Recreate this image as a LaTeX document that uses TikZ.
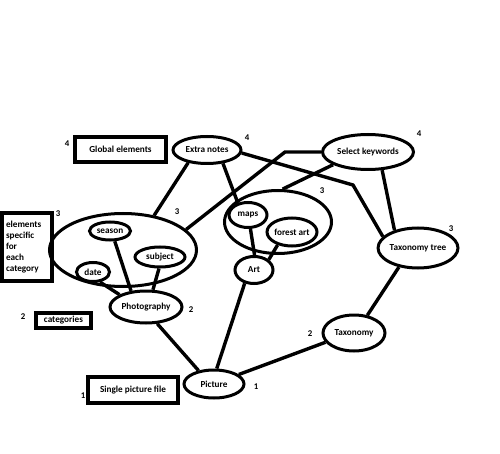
\documentclass[tikz,border=0pt]{standalone}
\usepackage{fontspec}
\setmainfont{Carlito}
\usetikzlibrary{shapes.geometric}

\begin{document}
\begin{tikzpicture}[x=1pt, y=-1pt,
    oval/.style={draw, ellipse, line width=3pt, inner sep=0pt,
                 font=\fontsize{9.2}{11}\selectfont\bfseries},
    box/.style={draw, rectangle, line width=3.2pt, inner sep=0pt,
                font=\fontsize{9.2}{11}\selectfont\bfseries},
    num/.style={inner sep=0pt, font=\fontsize{8.8}{10}\selectfont\bfseries},
    rel/.style={line width=3.4pt}]
  \useasboundingbox (0,0) rectangle (500,454);
  % legend boxes
  \node[box, minimum width=91, minimum height=25] (gel) at (120.5,149.5) {Global elements};
  \node[box, minimum width=50, minimum height=68, align=left, text width=42] (specific) at (27,247)
        {elements\\ specific\\ for\\ each\\ category};
  \node[box, minimum width=55, minimum height=15] (cats) at (63.5,320.5) {categories};
  \node[box, minimum width=90, minimum height=26] (single) at (133,390) {Single picture file};
  % level 4
  \node[oval, minimum width=68, minimum height=27] (notes) at (207,150) {Extra notes};
  \node[oval, minimum width=91, minimum height=35] (keys) at (368,152) {Select keywords};
  % level 3
  \node[oval, minimum width=147, minimum height=73] (photoset) at (123,250) {};
  \node[oval, minimum width=41, minimum height=18] (season) at (110,231) {season};
  \node[oval, minimum width=50, minimum height=20] (subject) at (160,257) {subject};
  \node[oval, minimum width=33, minimum height=19] (date) at (93,272) {date};
  \node[oval, minimum width=107, minimum height=63] (artset) at (278,222) {};
  \node[oval, minimum width=38, minimum height=25] (maps) at (248,215) {maps};
  \node[oval, minimum width=43, minimum height=28] (forest) at (292,232) {forest art};
  \node[oval, minimum width=76, minimum height=40] (tree) at (418,248) {Taxonomy tree};
  % level 2 and 1
  \node[oval, minimum width=72, minimum height=32] (photo) at (146,307) {Photography};
  \node[oval, minimum width=38, minimum height=27] (art) at (254,270) {Art};
  \node[oval, minimum width=62, minimum height=36] (tax) at (354,333) {Taxonomy};
  \node[oval, minimum width=60, minimum height=28] (pic) at (214,384) {Picture};
  % level numbers
  \node[num] (n4a) at (67,144) {4};
  \node[num] (n4b) at (247,138) {4};
  \node[num] (n4c) at (419,134) {4};
  \node[num] (n3a) at (58,214) {3};
  \node[num] (n3b) at (177,212) {3};
  \node[num] (n3c) at (322,191) {3};
  \node[num] (n3d) at (451,229) {3};
  \node[num] (n2a) at (191,310) {2};
  \node[num] (n2b) at (23,317) {2};
  \node[num] (n2c) at (310,334) {2};
  \node[num] (n1a) at (256,387) {1};
  \node[num] (n1b) at (83,396) {1};
  % bends
  \coordinate (kneeA) at (353,185);
  \coordinate (kneeB) at (285,152);
  % connectors
  \draw[rel] (notes.214) -- (photoset.48);
  \draw[rel] (notes.320) -- (maps.130);
  \draw[rel] (notes.355) -- (kneeA) -- (tree.162);
  \draw[rel] (keys.180) -- (kneeB) -- (photoset.18);
  \draw[rel] (keys.200) -- (artset.82);
  \draw[rel] (keys.308) -- (tree.143);
  \draw[rel] (maps.280) -- (art.88);
  \draw[rel] (forest.222) -- (art.35);
  \draw[rel] (art.235) -- (pic.80);
  \draw[rel] (season.295) -- (photo.133);
  \draw[rel] (subject.265) -- (photo.68);
  \draw[rel] (date.305) -- (photo.155);
  \draw[rel] (photo.304) -- (pic.139);
  \draw[rel] (pic.21) -- (tax.198);
  \draw[rel] (tree.225) -- (tax.53);
\end{tikzpicture}
\end{document}
